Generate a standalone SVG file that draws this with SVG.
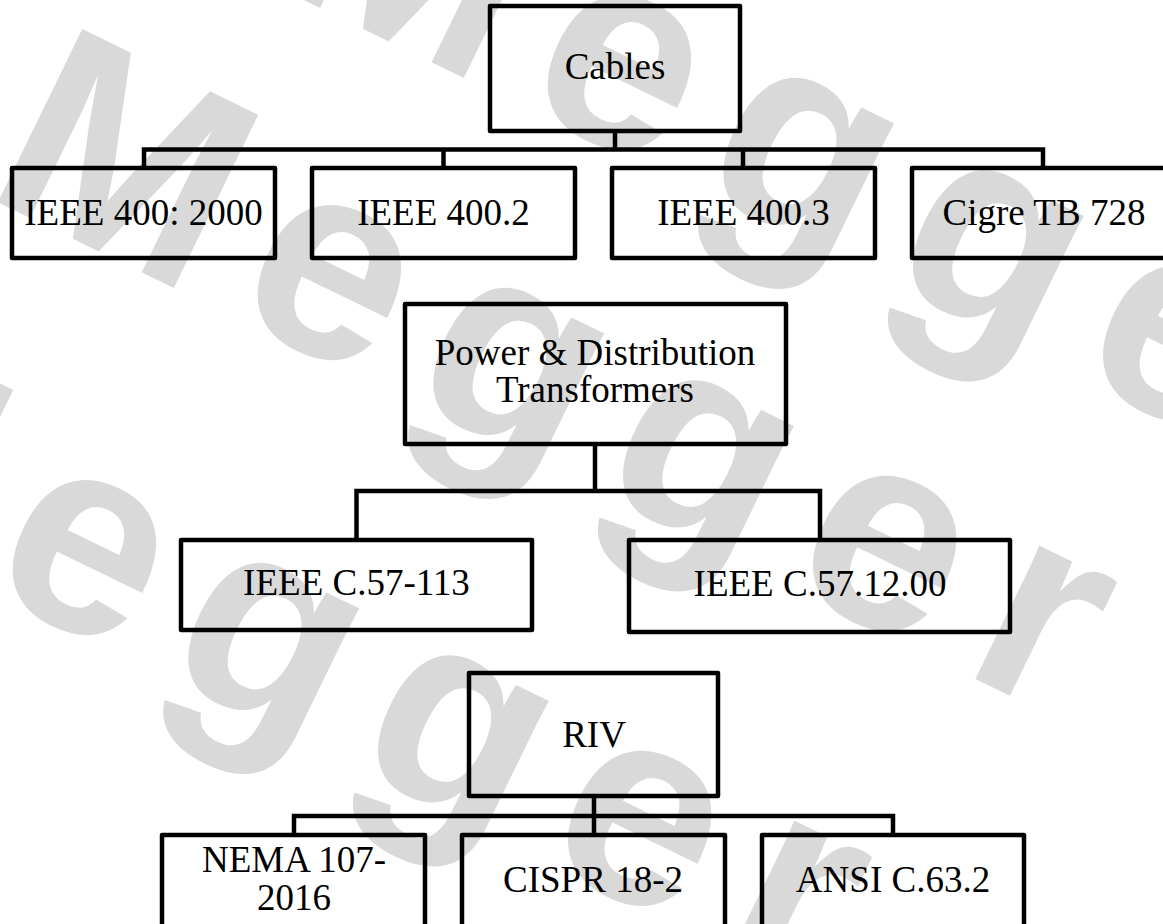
<svg xmlns="http://www.w3.org/2000/svg" width="1163" height="924" viewBox="0 0 1163 924">
  <style>
    .wm { font-family: "Liberation Sans", Arial, sans-serif; font-weight: bold; font-size: 280px; letter-spacing: 40px; fill: #d9d9d9; }
    .box { fill: none; stroke: #000; stroke-width: 4.5; stroke-linejoin: round; }
    .conn { fill: none; stroke: #000; stroke-width: 4.5; stroke-linejoin: miter; }
    .lbl { font-family: "Liberation Serif", "Times New Roman", serif; font-size: 37px; fill: #000; text-anchor: middle; }
  </style>
  <rect width="1163" height="924" fill="#fff"/>
  <g id="watermark">
    <text class="wm" transform="translate(271,-16) rotate(26)">Megger</text>
    <text class="wm" transform="translate(-19,194) rotate(26)">Megger</text>
    <text class="wm" transform="translate(-264,469) rotate(26)">Megger</text>
  </g>
  <g id="connectors">
    <path class="conn" d="M615,133 V149.5 M144,166 V149.5 H1043 V166 M443.5,149.5 V166 M743,149.5 V166"/>
    <path class="conn" d="M595,446 V491 M356.5,538 V491 H820 V538"/>
    <path class="conn" d="M594,798 V835 M294,835 V816 H893 V835"/>
  </g>
  <g id="cables">
    <rect class="box" x="490" y="6" width="250" height="125"/>
    <text class="lbl" x="615" y="79">Cables</text>
  </g>
  <g id="ieee400-2000">
    <rect class="box" x="12" y="168" width="263" height="90"/>
    <text class="lbl" x="143.5" y="225">IEEE 400: 2000</text>
  </g>
  <g id="ieee400-2">
    <rect class="box" x="312" y="168" width="263" height="90"/>
    <text class="lbl" x="443.5" y="225">IEEE 400.2</text>
  </g>
  <g id="ieee400-3">
    <rect class="box" x="612" y="168" width="263" height="90"/>
    <text class="lbl" x="743.5" y="225">IEEE 400.3</text>
  </g>
  <g id="cigre">
    <rect class="box" x="912" y="168" width="263" height="90"/>
    <text class="lbl" x="1044" y="225">Cigre TB 728</text>
  </g>
  <g id="transformers">
    <rect class="box" x="405" y="304" width="381" height="140"/>
    <text class="lbl" x="595" y="365">Power &amp; Distribution</text>
    <text class="lbl" x="595" y="402">Transformers</text>
  </g>
  <g id="c57-113">
    <rect class="box" x="181" y="540" width="351" height="90"/>
    <text class="lbl" x="356.5" y="595">IEEE C.57-113</text>
  </g>
  <g id="c57-12-00">
    <rect class="box" x="629" y="540" width="381" height="92"/>
    <text class="lbl" x="820" y="596">IEEE C.57.12.00</text>
  </g>
  <g id="riv">
    <rect class="box" x="469" y="673" width="249" height="123"/>
    <text class="lbl" x="594" y="747">RIV</text>
  </g>
  <g id="nema">
    <rect class="box" x="162" y="835" width="263" height="100"/>
    <text class="lbl" x="294" y="872">NEMA 107-</text>
    <text class="lbl" x="294" y="910">2016</text>
  </g>
  <g id="cispr">
    <rect class="box" x="462" y="835" width="263" height="100"/>
    <text class="lbl" x="593" y="892">CISPR 18-2</text>
  </g>
  <g id="ansi">
    <rect class="box" x="762" y="835" width="262" height="100"/>
    <text class="lbl" x="893" y="892">ANSI C.63.2</text>
  </g>
</svg>
